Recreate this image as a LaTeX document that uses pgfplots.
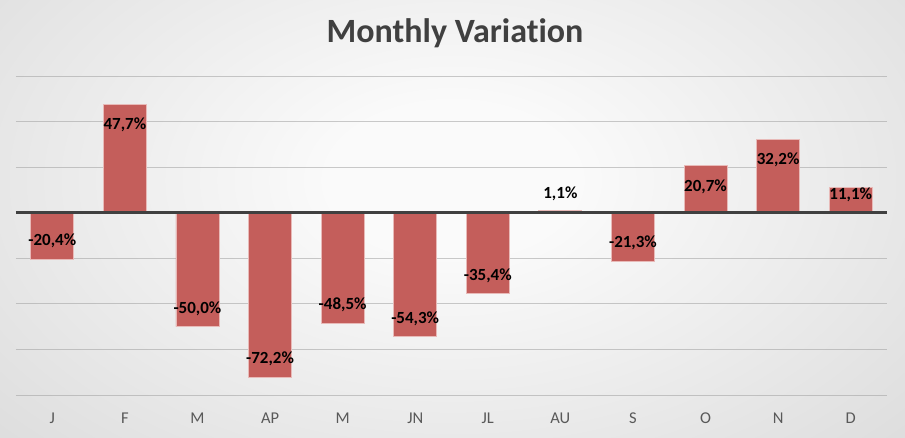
\documentclass[border=0pt]{standalone}
\usepackage{pgfplots}
\pgfplotsset{compat=1.18}
\usepackage{pgfplotstable}
\usepackage{fontspec}
\setmainfont{Carlito}[Ligatures=NoCommon]
\definecolor{barfill}{RGB}{196,94,91}
\definecolor{baredge}{RGB}{232,186,184}
\definecolor{titlecol}{RGB}{64,64,64}
\definecolor{tickcol}{RGB}{89,89,89}
\definecolor{zerocol}{RGB}{64,64,64}
\definecolor{gridcol}{RGB}{160,160,160}
\definecolor{bgin}{RGB}{250,250,250}
\definecolor{bgout}{RGB}{192,192,192}
\pgfdeclareradialshading{bgshade}{\pgfpoint{0bp}{0bp}}{color(0bp)=(bgin); color(6bp)=(bgin); color(55bp)=(bgout); color(72bp)=(bgout)}

\pgfplotstableread{
x y
0 -20.4
1 47.7
2 -50.0
3 -72.2
4 -48.5
5 -54.3
6 -35.4
7 1.1
8 -21.3
9 20.7
10 32.2
11 11.1
}\bardata

\pgfplotstableread{
x y lab
0 -12.4 {-20,4\%}
1 38.5 {47,7\%}
2 -42.3 {-50,0\%}
3 -64.2 {-72,2\%}
4 -40.5 {-48,5\%}
5 -46.6 {-54,3\%}
6 -27.8 {-35,4\%}
7 8.2 {1,1\%}
8 -13.3 {-21,3\%}
9 11.3 {20,7\%}
10 23.1 {32,2\%}
11 7.8 {11,1\%}
}\labdata

\begin{document}
\begin{tikzpicture}
\begin{scope}
\clip (0,0) rectangle (905pt,438pt);
\shade[shading=bgshade] (-60pt,-60pt) rectangle (965pt,576pt);
\end{scope}
\begin{axis}[
  at={(16pt,43pt)}, anchor=south west,
  scale only axis, width=871pt, height=319pt,
  xmin=-0.5, xmax=11.5, ymin=-80, ymax=60,
  xtick={0,...,11}, xticklabels={J,F,M,AP,M,JN,JL,AU,S,O,N,D},
  ytick={-80,-60,...,60}, yticklabels={},
  ymajorgrids, grid style={draw=gridcol, draw opacity=0.55, line width=0.8pt},
  major tick length=0pt,
  axis line style={draw=none},
  xticklabel style={font=\fontsize{16.5}{18}\selectfont, text=tickcol, anchor=center, yshift=-23pt},
  clip=false,
]
\addplot[ybar, bar width=43pt, fill=barfill, draw=baredge, line width=0.8pt] table[x=x,y=y] {\bardata};
\addplot[zerocol, line width=3.2pt, forget plot] coordinates {(-0.5,0) (11.5,0)};
\addplot[only marks, mark=*, mark size=0pt, mark options={draw=none,fill=none},
  point meta=explicit symbolic,
  nodes near coords,
  nodes near coords align={center},
  every node near coord/.append style={anchor=center, inner sep=0pt, text=black, font=\bfseries\fontsize{17}{19}\selectfont}]
  table[x=x,y=y,meta=lab] {\labdata};
\end{axis}
\node[font=\bfseries\fontsize{34}{40}\selectfont, text=titlecol] at (455pt,405pt) {Monthly Variation};
\pgfresetboundingbox
\path (0,0) rectangle (905pt,438pt);
\end{tikzpicture}
\end{document}
